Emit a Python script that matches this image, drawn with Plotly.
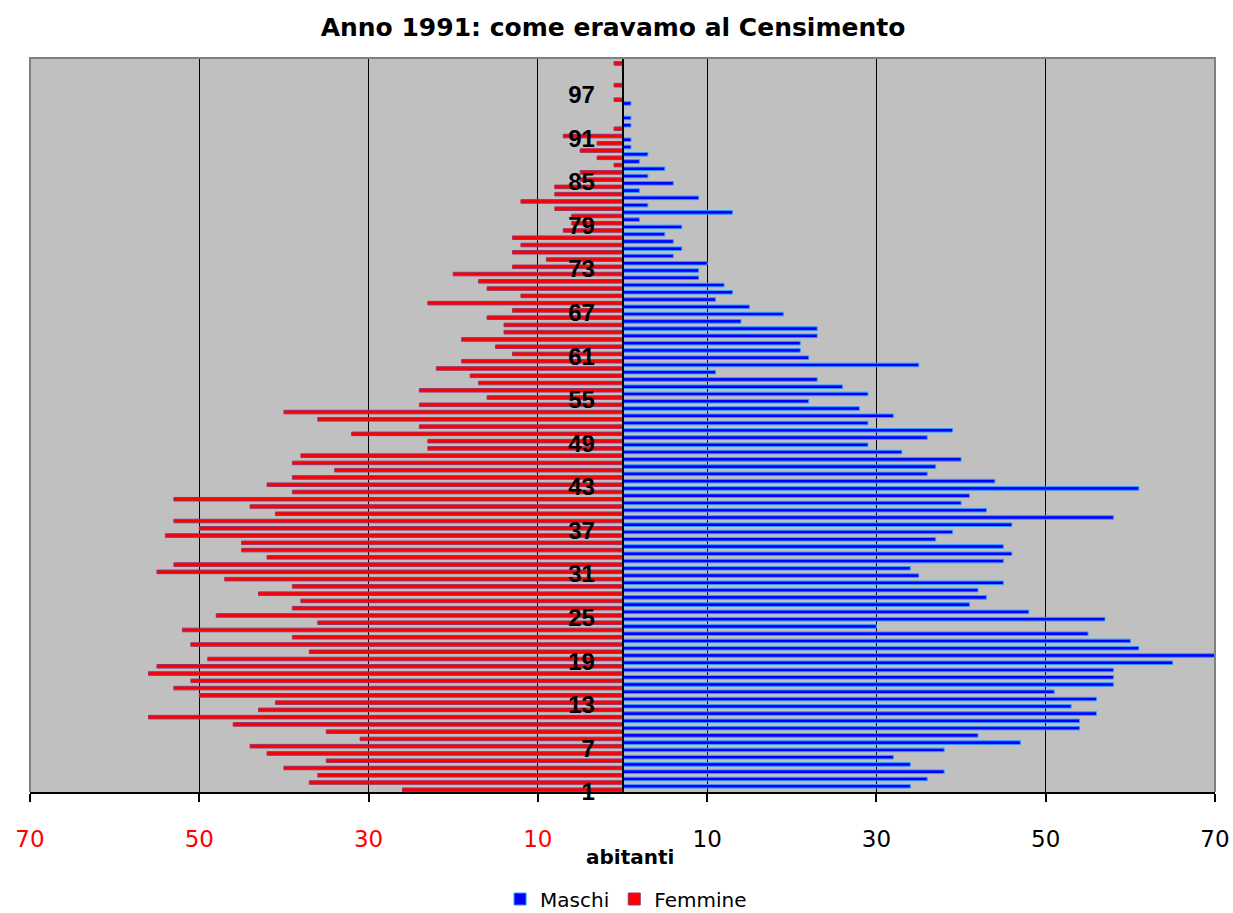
import plotly.graph_objects as go

# Classi di età (1 = prima classe in basso)
categorie = list(range(1, 102))

# Residenti maschi per classe di età
maschi = [
    34, 36, 38, 34, 32, 38, 47, 42, 54, 54,
    56, 53, 56, 51, 58, 58, 58, 65, 70, 61,
    60, 55, 30, 57, 48, 41, 43, 42, 45, 35,
    34, 45, 46, 45, 37, 39, 46, 58, 43, 40,
    41, 61, 44, 36, 37, 40, 33, 29, 36, 39,
    29, 32, 28, 22, 29, 26, 23, 11, 35, 22,
    21, 21, 23, 23, 14, 19, 15, 11, 13, 12,
    9, 9, 10, 6, 7, 6, 5, 7, 2, 13,
    3, 9, 2, 6, 3, 5, 2, 3, 1, 1,
    0, 1, 1, 0, 1, 0, 0, 0, 0, 0,
    0,
]

# Residenti femmine per classe di età
femmine = [
    26, 37, 36, 40, 35, 42, 44, 31, 35, 46,
    56, 43, 41, 50, 53, 51, 56, 55, 49, 37,
    51, 39, 52, 36, 48, 39, 38, 43, 39, 47,
    55, 53, 42, 45, 45, 54, 50, 53, 41, 44,
    53, 39, 42, 39, 34, 39, 38, 23, 23, 32,
    24, 36, 40, 24, 16, 24, 17, 18, 22, 19,
    13, 15, 19, 14, 14, 16, 13, 23, 12, 16,
    17, 20, 13, 9, 13, 12, 13, 7, 6, 6,
    8, 12, 8, 8, 5, 5, 1, 3, 5, 3,
    7, 1, 0, 0, 0, 1, 0, 1, 0, 0,
    1,
]

# Etichette dell'asse delle età
tick_eta = [1, 7, 13, 19, 25, 31, 37, 43, 49, 55, 61, 67, 73, 79, 85, 91, 97]

# Scala degli abitanti (a sinistra le femmine, in rosso)
tick_abitanti = [-70, -50, -30, -10, 10, 30, 50, 70]
tick_abitanti_testo = [
    f'<span style="color:#FF0000">{abs(v)}</span>' if v < 0 else str(v)
    for v in tick_abitanti
]

fig = go.Figure()

fig.add_trace(go.Bar(
    name="Femmine",
    y=categorie,
    x=[-v for v in femmine],
    orientation="h",
    marker=dict(color="#FF0000", line=dict(color="#993366", width=1)),
    legendrank=2,
))
fig.add_trace(go.Bar(
    name="Maschi",
    y=categorie,
    x=maschi,
    orientation="h",
    marker=dict(color="#0000FF", line=dict(color="#3399FF", width=1)),
    legendrank=1,
))

fig.update_layout(
    width=1233,
    height=913,
    barmode="group",
    bargap=0.02,
    bargroupgap=0.0,
    paper_bgcolor="white",
    plot_bgcolor="#C0C0C0",
    margin=dict(l=30, r=18, t=58, b=121, autoexpand=False),
    title=dict(
        text="<b>Anno 1991: come eravamo al Censimento</b>",
        font=dict(family="DejaVu Sans", size=25, color="black"),
        x=613 / 1233,
        xanchor="center",
        y=1 - 27 / 913,
        yanchor="middle",
        xref="container",
        yref="container",
    ),
    xaxis=dict(
        range=[-70, 70],
        tickvals=tick_abitanti,
        ticktext=tick_abitanti_testo,
        tickfont=dict(family="DejaVu Sans", size=23, color="black"),
        showgrid=True,
        gridcolor="black",
        gridwidth=1,
        zeroline=False,
        showline=True,
        linecolor="black",
        linewidth=2,
        ticks="outside",
        ticklen=8,
        tickwidth=1.5,
        tickcolor="black",
        ticklabelstandoff=17,
        fixedrange=True,
    ),
    yaxis=dict(
        range=[0.45, 101.5],
        tickvals=tick_eta,
        ticktext=[f"<b>{v}</b>" for v in tick_eta],
        tickfont=dict(family="Liberation Sans, Arial", size=24, color="black"),
        anchor="free",
        position=0.5,
        showgrid=False,
        zeroline=False,
        showline=True,
        linecolor="black",
        linewidth=1.5,
        ticks="",
        ticklabelstandoff=22,
        ticklabelshift=4,
        fixedrange=True,
    ),
    legend=dict(
        orientation="h",
        x=0.503,
        xanchor="center",
        y=(792 - 899) / 734,
        yanchor="middle",
        font=dict(family="DejaVu Sans", size=20, color="black"),
        itemwidth=30,
        bgcolor="rgba(0,0,0,0)",
    ),
    showlegend=True,
)

# Cornice grigia dell'area del grafico (lati superiore e laterali)
fig.add_shape(
    type="path",
    path="M 0,0 L 0,1 L 1,1 L 1,0",
    xref="paper",
    yref="paper",
    line=dict(color="#808080", width=2),
    layer="above",
)

# Titolo dell'asse orizzontale
fig.add_annotation(
    text="<b>abitanti</b>",
    x=0.506,
    y=(792 - 857) / 734,
    xref="paper",
    yref="paper",
    xanchor="center",
    yanchor="middle",
    showarrow=False,
    font=dict(family="DejaVu Sans", size=20, color="black"),
)

fig.write_html("out.html")
